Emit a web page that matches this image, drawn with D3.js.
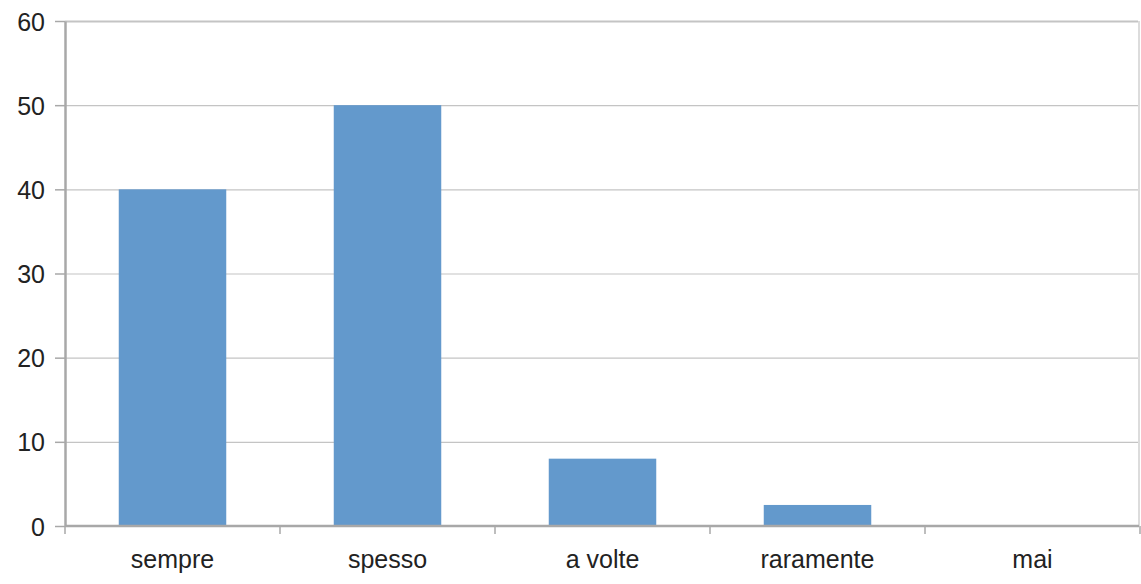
<!DOCTYPE html>
<html>
<head>
<meta charset="utf-8">
<script src="https://cdn.jsdelivr.net/npm/d3@7"></script>
<style>
  body { margin: 0; background: #fff; }
  text { font-family: "Liberation Sans", Arial, sans-serif; fill: #222; }
</style>
</head>
<body>
<svg id="chart" width="1141" height="584"></svg>
<script>
// chart data
const categories = ["sempre", "spesso", "a volte", "raramente", "mai"];
const values = [40, 50, 8, 2.5, 0];
const yTicks = [0, 10, 20, 30, 40, 50, 60];

const W = 1141, H = 584;
const margin = {top: 21, right: 1, bottom: 58, left: 65};

const svg = d3.select("#chart");

const x = d3.scaleBand()
    .domain(categories)
    .range([margin.left, W - margin.right])
    .paddingInner(0.5)
    .paddingOuter(0.25);

const y = d3.scaleLinear()
    .domain([0, 60])
    .range([H - margin.bottom, margin.top]);

// gridlines
svg.append("g")
    .selectAll("line")
    .data(yTicks.slice(1))
    .join("line")
    .attr("x1", margin.left)
    .attr("x2", W - 3)
    .attr("y1", d => y(d) + 0.5)
    .attr("y2", d => y(d) + 0.5)
    .attr("stroke", "#c4c4c4")
    .attr("stroke-width", d => d == 60 ? 2 : 1.2);

// right border
svg.append("line")
    .attr("x1", W - 2).attr("x2", W - 2)
    .attr("y1", y(60)).attr("y2", y(0))
    .attr("stroke", "#d0d0d0").attr("stroke-width", 1.5);

// bars
svg.append("g")
    .selectAll("rect")
    .data(categories)
    .join("rect")
    .attr("x", d => x(d))
    .attr("width", x.bandwidth())
    .attr("y", (d, i) => y(values[i]))
    .attr("height", (d, i) => y(0) - y(values[i]))
    .attr("fill", "#6399cc");

// y axis
const yAxis = svg.append("g")
    .attr("transform", `translate(${margin.left},0)`)
    .call(d3.axisLeft(y).tickValues(yTicks).tickSize(10).tickPadding(10).tickSizeOuter(0));
yAxis.select(".domain").attr("stroke", "#a8a8a8").attr("stroke-width", 2.5);
yAxis.selectAll(".tick line").attr("stroke", "#a8a8a8").attr("stroke-width", 1.5);
yAxis.selectAll(".tick text")
    .attr("font-size", 25)
    .attr("dy", "0.36em")
    .attr("x", -20);

// x axis with ticks between categories
const step = x.step();
const bounds = d3.range(categories.length + 1).map(i => margin.left + i * step);
const xAxis = svg.append("g");
xAxis.append("line")
    .attr("x1", margin.left).attr("x2", W - 2)
    .attr("y1", y(0)).attr("y2", y(0))
    .attr("stroke", "#a8a8a8").attr("stroke-width", 2.5);
xAxis.selectAll(".sep")
    .data(bounds)
    .join("line")
    .attr("class", "sep")
    .attr("x1", d => d).attr("x2", d => d)
    .attr("y1", y(0)).attr("y2", y(0) + 8)
    .attr("stroke", "#a8a8a8").attr("stroke-width", 1.5);
xAxis.selectAll(".lbl")
    .data(categories)
    .join("text")
    .attr("class", "lbl")
    .attr("font-size", 25)
    .attr("text-anchor", "middle")
    .attr("x", d => x(d) + x.bandwidth() / 2)
    .attr("y", y(0) + 42)
    .text(d => d);
</script>
</body>
</html>
